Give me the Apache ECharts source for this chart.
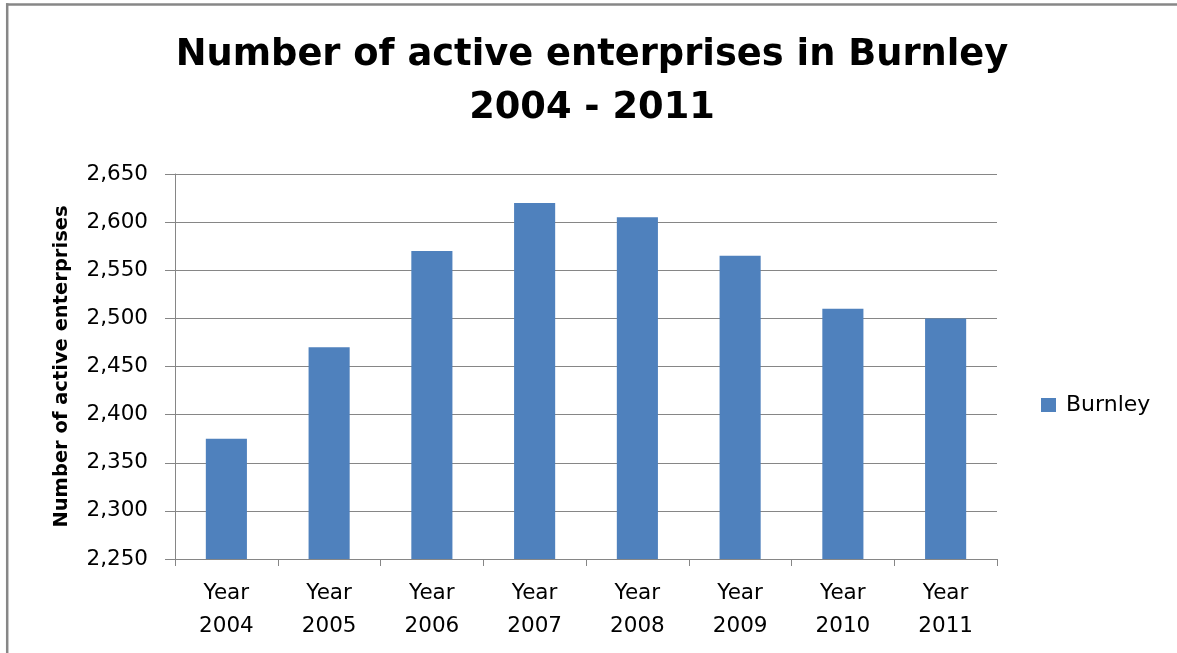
<!DOCTYPE html>
<html>
<head>
<meta charset="utf-8">
<script src="https://cdn.jsdelivr.net/npm/echarts@6/dist/echarts.min.js"></script>
<style>
html,body{margin:0;padding:0;background:#fff;}
#chart{width:1177px;height:653px;}
</style>
</head>
<body>
<div id="chart"></div>
<script>
var categories = ['Year\n2004','Year\n2005','Year\n2006','Year\n2007','Year\n2008','Year\n2009','Year\n2010','Year\n2011'];
var burnley = [2375, 2470, 2570, 2620, 2605, 2565, 2510, 2500];
var seriesName = 'Burnley';
var titleText = 'Number of active enterprises in Burnley\n2004 - 2011';
var yAxisName = 'Number of active enterprises';

var chart = echarts.init(document.getElementById('chart'));
var font = 'DejaVu Sans';
chart.setOption({
  animation: false,
  backgroundColor: '#fff',
  title: {
    text: titleText,
    left: 592,
    top: 28.5,
    padding: 0,
    textAlign: 'center',
    textStyle: {fontFamily: font, fontWeight: 'bold', fontSize: 36.8, lineHeight: 53, color: '#000'}
  },
  legend: {
    data: [seriesName],
    orient: 'vertical',
    left: 1041,
    top: 394,
    padding: 0,
    itemWidth: 15,
    itemHeight: 14,
    itemGap: 0,
    textStyle: {fontFamily: font, fontSize: 22, color: '#000', padding: [0,0,0,5]},
    icon: 'rect'
  },
  grid: {left: 175, right: 180, top: 174, bottom: 94, containLabel: false},
  xAxis: {
    type: 'category',
    data: categories,
    axisLine: {lineStyle: {color: '#868686', width: 1}},
    axisTick: {show: true, length: 7, alignWithLabel: false, lineStyle: {color: '#868686'}},
    axisLabel: {fontFamily: font, fontSize: 21.5, color: '#000', lineHeight: 33, margin: 18, interval: 0}
  },
  yAxis: {
    type: 'value',
    min: 2250,
    max: 2650,
    interval: 50,
    name: yAxisName,
    nameLocation: 'middle',
    nameGap: 103,
    nameTextStyle: {fontFamily: font, fontWeight: 'bold', fontSize: 19.5, color: '#000'},
    axisLine: {show: true, lineStyle: {color: '#868686', width: 1}},
    axisTick: {show: true, inside: false, length: 10, lineStyle: {color: '#868686'}},
    splitLine: {show: true, lineStyle: {color: '#868686', width: 1}},
    axisLabel: {
      fontFamily: font, fontSize: 21.5, color: '#000', margin: 27,
      formatter: function (v) { return v.toLocaleString('en-US'); }
    }
  },
  series: [{
    name: seriesName,
    type: 'bar',
    data: burnley,
    barWidth: '40%',
    itemStyle: {color: '#4F81BD'}
  }],
  graphic: [
    {type: 'line', shape: {x1: 6, y1: 4.5, x2: 1177, y2: 4.5}, style: {stroke: '#878787', lineWidth: 2.5}},
    {type: 'line', shape: {x1: 7.2, y1: 3.3, x2: 7.2, y2: 653}, style: {stroke: '#878787', lineWidth: 2.5}}
  ]
});
</script>
</body>
</html>
